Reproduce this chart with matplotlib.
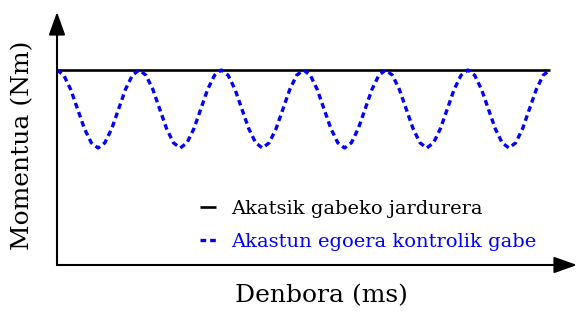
import matplotlib.pyplot as plt
import numpy as np

# Denbora (ms) eta momentua (Nm), irudiaren pixeletatik irakurrita
time_ms = [0.0, 0.083, 0.167, 0.25, 0.333, 0.417, 0.5, 0.583, 0.667, 0.75, 0.833, 0.917,
           1.0, 1.083, 1.167, 1.25, 1.333, 1.417, 1.5, 1.583, 1.667, 1.75, 1.833, 1.917,
           2.0, 2.083, 2.167, 2.25, 2.333, 2.417, 2.5, 2.583, 2.667, 2.75, 2.833, 2.917,
           3.0, 3.083, 3.167, 3.25, 3.333, 3.417, 3.5, 3.583, 3.667, 3.75, 3.833, 3.917,
           4.0, 4.083, 4.167, 4.25, 4.333, 4.417, 4.5, 4.583, 4.667, 4.75, 4.833, 4.917,
           5.0, 5.083, 5.167, 5.25, 5.333, 5.417, 5.5, 5.583, 5.667, 5.75, 5.833, 5.917,
           6.0]
torque_faulty = [1.0, 0.973, 0.9, 0.8, 0.7, 0.627, 0.6, 0.627, 0.7, 0.8, 0.9, 0.973,
                 1.0, 0.973, 0.9, 0.8, 0.7, 0.627, 0.6, 0.627, 0.7, 0.8, 0.9, 0.973,
                 1.0, 0.973, 0.9, 0.8, 0.7, 0.627, 0.6, 0.627, 0.7, 0.8, 0.9, 0.973,
                 1.0, 0.973, 0.9, 0.8, 0.7, 0.627, 0.6, 0.627, 0.7, 0.8, 0.9, 0.973,
                 1.0, 0.973, 0.9, 0.8, 0.7, 0.627, 0.6, 0.627, 0.7, 0.8, 0.9, 0.973,
                 1.0, 0.973, 0.9, 0.8, 0.7, 0.627, 0.6, 0.627, 0.7, 0.8, 0.9, 0.973,
                 1.0]
time_normal = [0.0, 6.0]
torque_normal = [1.0, 1.0]

labels = ["Akatsik gabeko jardurera", "Akastun egoera kontrolik gabe"]

W, H = 577, 311
fig = plt.figure(figsize=(W / 100, H / 100), dpi=100)
plt.rcParams['font.family'] = ['DejaVu Serif']

# ardatzak pixeletan: x 57..577, y 265..12
ax = fig.add_axes([57 / W, (H - 265) / H, (577 - 57) / W, (265 - 12) / H])
xmax = 6 * (577 - 57) / (550 - 57)
ymax = (265 - 12) / (265 - 70)
ax.set_xlim(0, xmax)
ax.set_ylim(0, ymax)
ax.axis('off')

l1, = ax.plot(time_normal, torque_normal, color='black', lw=1.9, solid_capstyle='butt', zorder=2)
l2, = ax.plot(time_ms, torque_faulty, color='#0000ff', lw=2.4, dashes=(1.7, 1.2), zorder=3)

# gezidun ardatzak
arrow = dict(arrowstyle='-|>,head_length=1.4,head_width=0.5', color='black', lw=1.5,
             shrinkA=0, shrinkB=0)
ax.annotate('', xy=(xmax, 0), xytext=(0, 0), arrowprops=arrow, annotation_clip=False)
ax.annotate('', xy=(0, ymax), xytext=(0, 0), arrowprops=arrow, annotation_clip=False)

leg = ax.legend([l1, l2], labels, loc='upper left', bbox_to_anchor=(190 / W, (H - 190) / H),
                bbox_transform=fig.transFigure, frameon=False, fontsize=14,
                handlelength=0.85, handletextpad=0.75, labelspacing=0.78, borderpad=0)
for txt, c in zip(leg.get_texts(), ['black', '#0000ff']):
    txt.set_color(c)

fig.text(321 / W, (H - 296) / H, "Denbora (ms)", ha='center', va='center', fontsize=18)
fig.text(23 / W, (H - 145) / H, "Momentua (Nm)", ha='center', va='center',
         rotation=90, fontsize=18)

fig.savefig('out.png', dpi=100, facecolor='white')
